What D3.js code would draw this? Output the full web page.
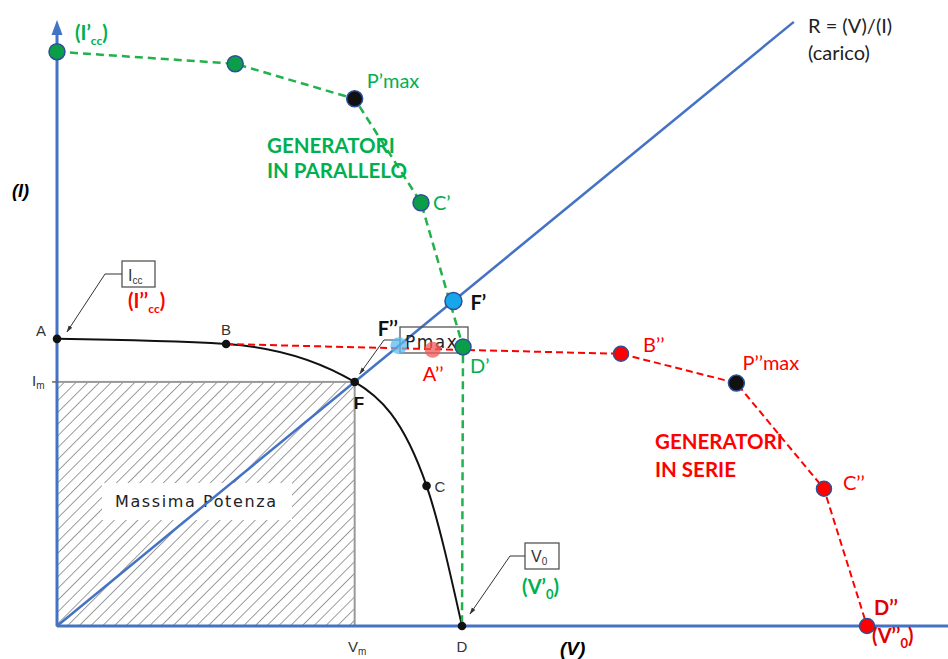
<!DOCTYPE html>
<html><head><meta charset="utf-8">
<script src="https://cdn.jsdelivr.net/npm/d3@7"></script>
<style>body{margin:0;background:#fff}svg{display:block}</style>
</head><body><svg id="c" width="948" height="659"></svg>
<script>
// Single generator I-V characteristic (arbitrary units: V, I)
const singleNames = ["A", "B", "F", "C", "D"];
const singleV = [0, 16.7, 29.4, 36.5, 40];
const singleI = [5, 4.91, 4.25, 2.44, 0];

// Two generators in parallel: short-circuit current doubles
const parNames = ["I’cc", "", "P’max", "C’", "D’", "V’0"];
const parV = [0, 17.6, 29.4, 35.95, 40.1, 40];
const parI = [10, 9.79, 9.18, 7.37, 4.86, 0];

// Two generators in series: open-circuit voltage doubles
const serNames = ["B’’", "P’’max", "C’’", "D’’"];
const serV = [55.7, 67.1, 75.75, 80];
const serI = [4.74, 4.23, 2.39, 0];
const serA = [37.1, 4.81]; // A''

// Load line R = V / I through the maximum power point F
const loadR = singleV[2] / singleI[2];
const loadPointsI = [5.66, 4.88]; // F', F''
const loadTopI = 10.52;

const svg = d3.select("#c");
const x = d3.scaleLinear().domain([0, 88]).range([57, 948]);
const y = d3.scaleLinear().domain([0, 10.5]).range([626, 23]);

const BLUE = "#4472c4", GREEN = "#00b050", RED = "#ff0000", EDGE = "#2f4f9a";
const CAL = "Lato, 'Open Sans', sans-serif";
const TECH = "'Liberation Sans', Arial, sans-serif";
const ROUND = "'DejaVu Sans', sans-serif";

// ---- defs: hatch pattern + arrowheads
const defs = svg.append("defs");
const pat = defs.append("pattern").attr("id", "hatch").attr("patternUnits", "userSpaceOnUse")
  .attr("width", 8.3).attr("height", 8.3).attr("patternTransform", "rotate(45)");
pat.append("line").attr("x1", 0).attr("y1", 0).attr("x2", 0).attr("y2", 8.3)
  .attr("stroke", "#3a3a3a").attr("stroke-width", 1);
defs.append("marker").attr("id", "arr").attr("viewBox", "0 0 10 10").attr("refX", 9).attr("refY", 5)
  .attr("markerWidth", 7).attr("markerHeight", 7).attr("orient", "auto")
  .append("path").attr("d", "M0,2 L10,5 L0,8 Z").attr("fill", "#333");

// text helper: parts are strings or {t, sub}
function label(px, py, parts, o) {
  const t = svg.append("text").attr("x", px).attr("y", py)
    .attr("font-family", o.font || CAL).attr("font-size", o.size || 16)
    .attr("font-weight", o.bold ? "bold" : "normal")
    .attr("font-style", o.italic ? "italic" : "normal")
    .attr("fill", o.color || "#000")
    .attr("text-anchor", o.anchor || "start");
  if (o.ls) t.attr("letter-spacing", o.ls);
  let shifted = 0;
  parts.forEach(p => {
    if (typeof p === "string") {
      const s = t.append("tspan").text(p);
      if (shifted) { s.attr("dy", -shifted); shifted = 0; }
    } else {
      const d = p.dy || Math.round((o.size || 16) * 0.3);
      t.append("tspan").text(p.t).attr("font-size", p.size || (o.size || 16) * 0.62).attr("dy", d - shifted);
      shifted = d;
    }
  });
  return t;
}

// ---- maximum power rectangle (hatched)
const Vm = singleV[2], Im = singleI[2];
svg.append("rect").attr("x", x(0)).attr("y", y(Im)).attr("width", x(Vm) - x(0)).attr("height", y(0) - y(Im))
  .attr("fill", "url(#hatch)").attr("stroke", "#999").attr("stroke-width", 2);
svg.append("rect").attr("x", 102).attr("y", 483).attr("width", 190).attr("height", 37).attr("fill", "#fff");
label(115, 507, ["Massima  Potenza"], { font: ROUND, size: 16, color: "#222", ls: 1.6 });

// ---- axes
svg.append("line").attr("x1", x(0)).attr("y1", y(0)).attr("x2", 948).attr("y2", y(0))
  .attr("stroke", BLUE).attr("stroke-width", 3);
svg.append("line").attr("x1", x(0)).attr("y1", y(0)).attr("x2", x(0)).attr("y2", 32)
  .attr("stroke", BLUE).attr("stroke-width", 3);
svg.append("path").attr("d", `M${x(0) - 5.5},35 L${x(0)},20 L${x(0) + 5.5},35 Z`).attr("fill", BLUE);
// Im tick
svg.append("line").attr("x1", x(0) - 5).attr("x2", x(0)).attr("y1", y(Im)).attr("y2", y(Im))
  .attr("stroke", "#666").attr("stroke-width", 1.5);

// ---- load line
svg.append("line").attr("x1", x(0)).attr("y1", y(0)).attr("x2", x(loadR * loadTopI)).attr("y2", y(loadTopI))
  .attr("stroke", BLUE).attr("stroke-width", 2.5);

// ---- single generator curve
const single = singleV.map((v, i) => [v, singleI[i]]);
svg.append("path").datum(single)
  .attr("d", d3.line().x(d => x(d[0])).y(d => y(d[1])).curve(d3.curveMonotoneX))
  .attr("fill", "none").attr("stroke", "#111").attr("stroke-width", 2);

// ---- parallel (green dashed)
const par = parV.map((v, i) => [v, parI[i]]);
svg.append("path").datum(par)
  .attr("d", d3.line().x(d => x(d[0])).y(d => y(d[1])))
  .attr("fill", "none").attr("stroke", "#22b14c").attr("stroke-width", 2.5).attr("stroke-dasharray", "8,5");

// ---- series (red dashed) starting from B
const ser = [[singleV[1], singleI[1]]].concat(serV.map((v, i) => [v, serI[i]]));
svg.append("path").datum(ser)
  .attr("d", d3.line().x(d => x(d[0])).y(d => y(d[1])))
  .attr("fill", "none").attr("stroke", RED).attr("stroke-width", 2).attr("stroke-dasharray", "7,4");

// ---- annotation boxes with leaders
function box(bx, by, bw, bh) {
  svg.append("rect").attr("x", bx).attr("y", by).attr("width", bw).attr("height", bh)
    .attr("fill", "none").attr("stroke", "#555").attr("stroke-width", 1.3);
}
function leader(pts) {
  svg.append("path").attr("d", d3.line()(pts)).attr("fill", "none").attr("stroke", "#333")
    .attr("stroke-width", 1).attr("marker-end", "url(#arr)");
}
// Icc
box(122, 261, 33, 26);
label(128, 281, ["I", { t: "cc", dy: 3, size: 10 }], { font: TECH, size: 16, color: "#333" });
leader([[122, 274], [105, 274], [x(0) + 10, y(singleI[0]) - 7]]);
// V0
box(525, 543, 34, 26);
label(531, 562, ["V", { t: "0", dy: 3, size: 10 }], { font: TECH, size: 16, color: "#333" });
leader([[525, 556], [510, 556], [x(singleV[4]) + 8, y(0) - 12]]);
// Pmax
box(400, 327, 68, 26);
label(405, 348, ["Pmax"], { font: ROUND, size: 17, color: "#222", ls: 1.5 });
leader([[400, 340], [384, 340], [x(Vm) + 5, y(Im) - 8]]);

// ---- markers
function dot(v, i, r, fill, stroke, op) {
  svg.append("circle").attr("cx", x(v)).attr("cy", y(i)).attr("r", r)
    .attr("fill", fill).attr("stroke", stroke || "none").attr("stroke-width", stroke ? 1.5 : 0)
    .attr("opacity", op || 1);
}
single.forEach(d => dot(d[0], d[1], 4.3, "#111"));
par.slice(0, 5).forEach((d, k) => dot(d[0], d[1], 8, k === 2 ? "#111" : "#0a9e48", EDGE));
serV.forEach((v, k) => dot(v, serI[k], k === 1 ? 8 : 7.5, k === 1 ? "#111" : RED, EDGE));
dot(serA[0], serA[1], 8, "#f05a5a", null, 0.75);
dot(loadR * loadPointsI[1], loadPointsI[1], 8.5, "#5bbbf0", null, 0.75);
dot(loadR * loadPointsI[0], loadPointsI[0], 8.5, "#17a6ec", EDGE);

// ---- single-curve labels
label(x(0) - 21, y(singleI[0]) - 3, [singleNames[0]], { font: TECH, size: 15, color: "#333" });
label(x(singleV[1]) - 5, y(singleI[1]) - 9, [singleNames[1]], { font: TECH, size: 15, color: "#333" });
label(x(Vm) - 1, y(Im) + 27, [singleNames[2]], { font: TECH, size: 17, bold: true, color: "#111" });
label(x(singleV[3]) + 8, y(singleI[3]) + 6, [singleNames[3]], { font: TECH, size: 15, color: "#333" });
label(x(singleV[4]), 652, [singleNames[4]], { font: TECH, size: 15, color: "#333", anchor: "middle" });
label(348, 652, ["V", { t: "m", dy: 3, size: 10 }], { font: TECH, size: 15, color: "#333" });
label(32, 386, ["I", { t: "m", dy: 3, size: 10 }], { font: TECH, size: 15, color: "#333" });

// axis titles
label(12, 197, ["(I)"], { font: TECH, size: 18, bold: true, italic: true });
label(560, 655, ["(V)"], { font: TECH, size: 19, bold: true, italic: true });
label(808, 33, ["R = (V)/(I)"], { size: 20, color: "#222" });
label(808, 60, ["(carico)"], { size: 20, color: "#222" });

// ---- parallel labels
label(75, 40, ["(I’", { t: "cc", dy: 5, size: 12 }, ")"], { size: 20, bold: true, color: GREEN });
label(x(parV[2]) + 12, y(parI[2]) - 11, [parNames[2]], { size: 20, color: GREEN });
label(x(parV[3]) + 12, y(parI[3]) + 7, [parNames[3]], { size: 20, color: GREEN });
label(x(parV[4]) + 7, y(parI[4]) + 26, [parNames[4]], { size: 20, color: GREEN });
label(267, 153, ["GENERATORI"], { size: 20.5, bold: true, color: GREEN });
label(267, 178, ["IN PARALLELO"], { size: 20.5, bold: true, color: GREEN });
label(522, 594, ["(V’", { t: "0", dy: 5, size: 13 }, ")"], { size: 20, bold: true, color: GREEN });

// ---- load-line labels
label(x(loadR * loadPointsI[0]) + 17, y(loadPointsI[0]) + 9, ["F’"], { size: 20, bold: true, color: "#111" });
label(x(loadR * loadPointsI[1]) - 21, y(loadPointsI[1]) - 10, ["F’’"], { size: 20, bold: true, color: "#111" });

// ---- series labels
label(128, 308, ["(I’’", { t: "cc", dy: 5, size: 12 }, ")"], { size: 20, bold: true, color: RED });
label(x(serA[0]) - 10, y(serA[1]) + 31, ["A’’"], { size: 20, color: RED });
label(x(serV[0]) + 22, y(serI[0]) - 2, [serNames[0]], { size: 20, color: RED });
label(x(serV[1]) + 6, y(serI[1]) - 13, [serNames[1]], { size: 20, color: RED });
label(x(serV[2]) + 19, y(serI[2]) + 1, [serNames[2]], { size: 20, color: RED });
label(x(serV[3]) + 7, y(serI[3]) - 11, [serNames[3]], { size: 20, bold: true, color: "#e00000" });
label(872, 643, ["(V’’", { t: "0", dy: 5, size: 13 }, ")"], { size: 20, bold: true, color: "#e00000" });
label(655, 449, ["GENERATORI"], { size: 20.5, bold: true, color: RED });
label(655, 477, ["IN SERIE"], { size: 20.5, bold: true, color: RED });
</script></body></html>
